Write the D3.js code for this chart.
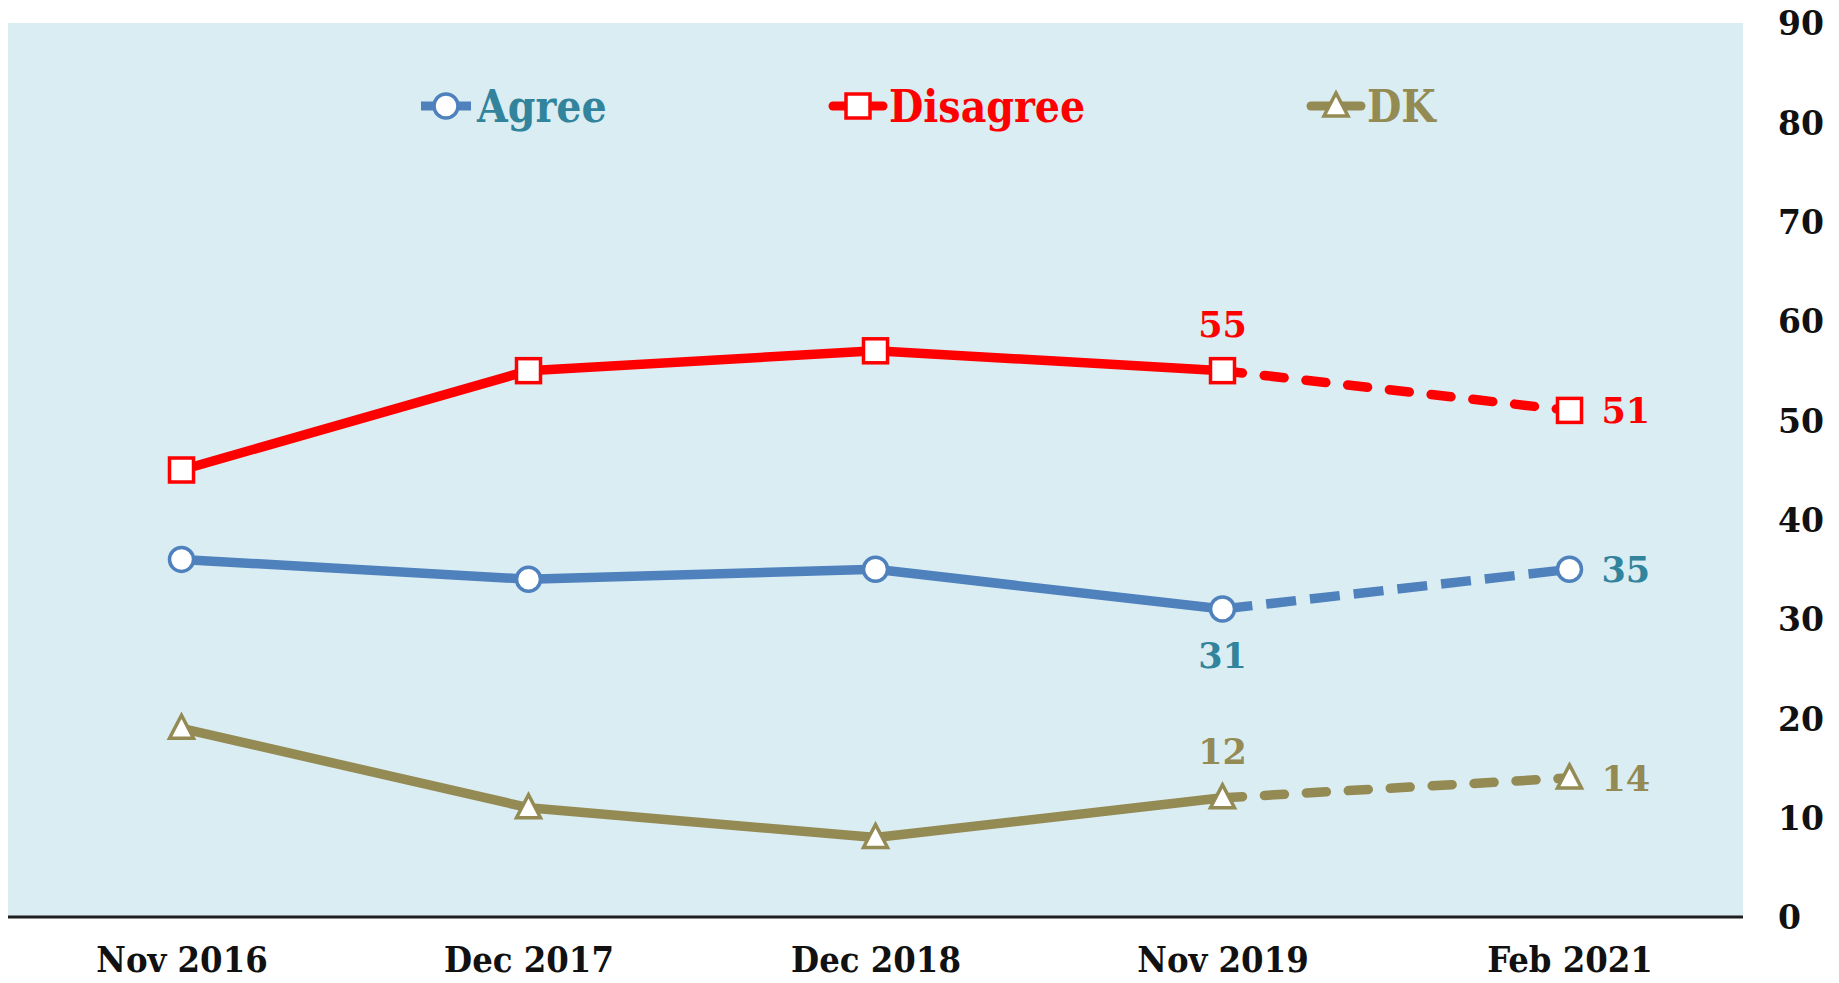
<!DOCTYPE html>
<html><head><meta charset="utf-8">
<script src="https://cdn.jsdelivr.net/npm/d3@7"></script>
<style>body{margin:0;background:#fff}svg{display:block}</style>
</head><body>
<script>
const categories = ["Nov 2016","Dec 2017","Dec 2018","Nov 2019","Feb 2021"];
const agree = [36, 34, 35, 31, 35];
const disagree = [45, 55, 57, 55, 51];
const dk = [19, 11, 8, 12, 14];
const yTicks = [0,10,20,30,40,50,60,70,80,90];
const seriesNames = ["Agree","Disagree","DK"];

const W = 1839, H = 983;
const svg = d3.select("body").append("svg").attr("width", W).attr("height", H);
const pLeft = 8, pRight = 1743, pTop = 23, pBottom = 917;

const x = d3.scalePoint().domain(categories).range([pLeft, pRight]).padding(0.5);
const y = d3.scaleLinear().domain([0, 90]).range([pBottom, pTop]);

svg.append("rect").attr("x", pLeft).attr("y", pTop).attr("width", pRight-pLeft).attr("height", pBottom-pTop).attr("fill", "#DAEDF3");
svg.append("line").attr("x1", pLeft).attr("x2", pRight).attr("y1", pBottom).attr("y2", pBottom).attr("stroke", "#1f1f1f").attr("stroke-width", 3);

// y axis right
const yAxis = d3.axisRight(y).tickValues(yTicks).tickSize(0).tickPadding(0).tickFormat(d3.format("d"));
const ya = svg.append("g").attr("transform", `translate(1778,0)`).call(yAxis);
ya.select(".domain").remove();
ya.selectAll("text").attr("font-family","DejaVu Serif").attr("font-weight","bold").attr("font-size",33).attr("fill","#111").attr("dy","0.36em");

// x axis
const xAxis = d3.axisBottom(x).tickSize(0).tickPadding(0);
const xa = svg.append("g").attr("transform", `translate(0,${pBottom})`).call(xAxis);
xa.select(".domain").remove();
xa.selectAll("text").attr("font-family","DejaVu Serif Condensed, DejaVu Serif").attr("font-weight","bold").attr("font-size",36).attr("fill","#111").attr("dy",0).attr("y",55);

const series = [
  {name:seriesNames[0], vals: agree, color:"#4F81BD", label:"#31849B", marker:"circle", cap:"butt"},
  {name:seriesNames[1], vals: disagree, color:"#FF0000", label:"#FF0000", marker:"square", cap:"round"},
  {name:seriesNames[2], vals: dk, color:"#948A54", label:"#948A54", marker:"triangle", cap:"round"}
];

const line = d3.line().x(d => x(d.c)).y(d => y(d.v));

function drawMarker(g, type, cx, cy, color) {
  if (type === "circle") {
    g.append("circle").attr("cx", cx).attr("cy", cy).attr("r", 12).attr("fill","#fff").attr("stroke", color).attr("stroke-width", 3.5);
  } else if (type === "square") {
    g.append("rect").attr("x", cx-12).attr("y", cy-12).attr("width", 24).attr("height", 24).attr("fill","#fff").attr("stroke", color).attr("stroke-width", 3.5);
  } else {
    g.append("path").attr("d", `M${cx},${cy-13}L${cx+12},${cy+10}L${cx-12},${cy+10}Z`).attr("fill","#fff").attr("stroke", color).attr("stroke-width", 3.5).attr("stroke-linejoin","miter");
  }
}

series.forEach(s => {
  const pts = s.vals.map((v,i) => ({c: categories[i], v}));
  svg.append("path").datum(pts.slice(0,4)).attr("d", line).attr("fill","none").attr("stroke", s.color).attr("stroke-width", 9.5).attr("stroke-linejoin","round");
  svg.append("path").datum(pts.slice(3,5)).attr("d", line).attr("fill","none").attr("stroke", s.color).attr("stroke-width", 9.5)
     .attr("stroke-dasharray", s.cap === "round" ? "20,22" : "30,14").attr("stroke-linecap", s.cap);
  const g = svg.append("g");
  pts.forEach(p => drawMarker(g, s.marker, x(p.c), y(p.v), s.color));
});

// data labels
const lab = (txt, xx, yy, color, anchor) => svg.append("text").attr("x", xx).attr("y", yy).attr("text-anchor", anchor)
  .attr("font-family","DejaVu Serif").attr("font-weight","bold").attr("font-size",35).attr("fill", color).attr("dy","0.36em").text(txt);
const n19 = categories[3], f21 = categories[4];
lab(disagree[3], x(n19), y(disagree[3]) - 46, "#FF0000", "middle");
lab(disagree[4], x(f21) + 32, y(disagree[4]), "#FF0000", "start");
lab(agree[3], x(n19), y(agree[3]) + 46, "#31849B", "middle");
lab(agree[4], x(f21) + 32, y(agree[4]), "#31849B", "start");
lab(dk[3], x(n19), y(dk[3]) - 46, "#948A54", "middle");
lab(dk[4], x(f21) + 32, y(dk[4]), "#948A54", "start");

// legend
const legendX = [421, 833, 1311];
const lg = svg.append("g");
series.forEach((s, i) => {
  const lx = legendX[i], ly = 106;
  lg.append("line").attr("x1", lx).attr("x2", lx+50).attr("y1", ly).attr("y2", ly).attr("stroke", s.color).attr("stroke-width", 9).attr("stroke-linecap", s.cap);
  drawMarker(lg, s.marker, lx+25, ly, s.color);
  lg.append("text").attr("x", lx+56).attr("y", ly).attr("dy","0.36em").attr("font-family","DejaVu Serif Condensed, DejaVu Serif").attr("font-weight","bold")
    .attr("font-size",44).attr("fill", s.label).text(s.name);
});
</script>
</body></html>
